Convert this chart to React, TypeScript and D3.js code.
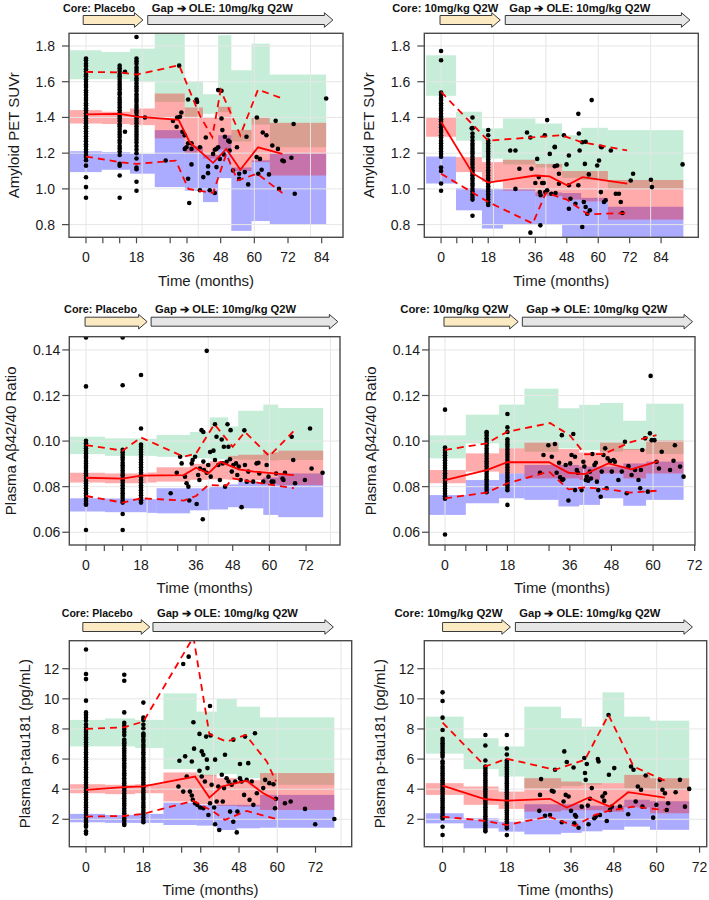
import React from "react";
import * as d3 from "d3";

type Pt = [number, number];
// [t0, t1, greenLo, greenHi, redLo, redHi, blueLo, blueHi]
type Bin = [number, number, number, number, number, number, number, number];

// ---------------- Amyloid PET SUVr, Core: Placebo ----------------
const AMY_PBO_BINS: Bin[] = [
  [-5.7, 5.6, 1.614, 1.776, 1.366, 1.441, 1.094, 1.211],
  [5.6, 15.7, 1.614, 1.766, 1.363, 1.432, 1.107, 1.206],
  [15.7, 24.5, 1.6, 1.785, 1.357, 1.45, 1.085, 1.196],
  [24.5, 35.2, 1.487, 1.95, 1.283, 1.534, 1.01, 1.329],
  [35.2, 41.7, 1.404, 1.6, 1.2, 1.456, 0.99, 1.24],
  [41.7, 47.1, 1.42, 1.53, 1.17, 1.4, 0.926, 1.19],
  [47.1, 51.8, 1.43, 1.86, 1.22, 1.46, 1.06, 1.3],
  [51.8, 59, 1.265, 1.664, 1.1, 1.33, 0.765, 1.12],
  [59, 65.5, 1.36, 1.813, 1.15, 1.4, 0.82, 1.16],
  [65.5, 85.6, 1.233, 1.64, 1.075, 1.37, 0.8, 1.2],
];
const AMY_PBO_MED: Pt[] = [[0, 1.417], [12, 1.42], [18, 1.405], [33, 1.387], [37, 1.26], [45.3, 1.146], [50, 1.224], [55, 1.107], [61.3, 1.233], [70, 1.196]];
const AMY_PBO_P95: Pt[] = [[0, 1.655], [12, 1.652], [18, 1.64], [33.2, 1.692], [40.6, 1.41], [45, 1.29], [48, 1.553], [55, 1.3], [61.3, 1.556], [70, 1.506]];
const AMY_PBO_P5: Pt[] = [[0, 1.181], [12, 1.15], [18, 1.14], [32, 1.158], [36.5, 1.0], [45.3, 0.977], [50, 1.196], [54, 1.047], [61, 1.085], [70, 0.977]];
const AMY_PBO_C0 = [1.73, 1.72, 1.7, 1.688, 1.67, 1.657, 1.641, 1.63, 1.612, 1.6, 1.583, 1.571, 1.552, 1.54, 1.526, 1.51, 1.497, 1.48, 1.468, 1.452, 1.44, 1.423, 1.41, 1.395, 1.38, 1.368, 1.351, 1.34, 1.322, 1.31, 1.295, 1.28, 1.266, 1.25, 1.238, 1.22, 1.207, 1.19, 1.178, 1.16, 1.13, 1.065, 1.01, 0.95];
const AMY_PBO_C12 = [1.69, 1.675, 1.66, 1.643, 1.63, 1.615, 1.6, 1.585, 1.57, 1.556, 1.54, 1.528, 1.51, 1.497, 1.483, 1.47, 1.455, 1.44, 1.425, 1.41, 1.396, 1.38, 1.362, 1.35, 1.335, 1.32, 1.305, 1.29, 1.272, 1.258, 1.24, 1.226, 1.21, 1.19, 1.14, 1.13, 1.075, 0.95];
const AMY_PBO_C18 = [1.85, 1.73, 1.715, 1.7, 1.68, 1.665, 1.65, 1.637, 1.62, 1.606, 1.59, 1.575, 1.56, 1.548, 1.53, 1.515, 1.5, 1.487, 1.47, 1.455, 1.44, 1.427, 1.41, 1.395, 1.38, 1.367, 1.35, 1.335, 1.32, 1.305, 1.29, 1.275, 1.26, 1.24, 1.22, 1.2, 1.17, 1.12, 1.11, 1.04, 0.99];
const AMY_PBO_PTS: Pt[] = [[13.9, 1.655], [13.9, 1.32], [21, 1.4], [33.2, 1.69], [36.4, 1.5], [39.4, 1.5], [39.6, 1.487], [33.5, 1.404], [32.5, 1.4], [34, 1.428], [31, 1.38], [32.3, 1.348], [34.4, 1.32], [35.2, 1.3], [36.4, 1.255], [37.6, 1.255], [42.7, 1.288], [47.1, 1.553], [48.3, 1.549], [48.3, 1.394], [48.6, 1.329], [49.5, 1.292], [51.2, 1.264], [57.2, 1.292], [60.9, 1.4], [63, 1.316], [64.3, 1.3], [67.6, 1.381], [74, 1.363], [85.6, 1.506], [28.4, 1.159], [35.8, 1.233], [35.2, 1.224], [37.6, 1.224], [40.6, 1.233], [40.6, 0.992], [36.8, 0.921], [37.6, 1.137], [36.4, 1.057], [41.8, 1.066], [43.5, 1.126], [43.5, 1.088], [44.1, 0.992], [45.3, 1.196], [45.9, 1.219], [46.5, 1.224], [47.1, 1.233], [45.9, 0.977], [46.5, 1.122], [47.7, 1.168], [49.1, 1.193], [50.7, 1.27], [51.2, 1.215], [52.4, 1.103], [53.8, 1.233], [54.6, 1.057], [54.6, 1.085], [56.6, 1.094], [57.8, 1.025], [60.8, 1.178], [62, 1.168], [61.4, 1.085], [62.6, 1.107], [65.2, 1.081], [66.4, 1.243], [68.4, 1.224], [68.8, 1.0], [70, 1.159], [70.5, 1.155], [73.2, 1.174], [74.4, 0.973]];

// ---------------- Amyloid PET SUVr, Core: 10mg/kg ----------------
const AMY_ACT_BINS: Bin[] = [
  [-5.7, 5.7, 1.521, 1.748, 1.292, 1.4, 1.03, 1.181],
  [5.7, 15.6, 1.27, 1.432, 1.094, 1.178, 0.88, 1.005],
  [15.6, 23.6, 1.17, 1.339, 1.04, 1.15, 0.778, 1.0],
  [23.6, 36, 1.137, 1.394, 0.99, 1.163, 0.8, 1.0],
  [36, 46.2, 1.12, 1.366, 0.96, 1.14, 0.8, 0.98],
  [46.2, 53.5, 1.062, 1.3, 0.94, 1.1, 0.72, 0.977],
  [53.5, 63.7, 1.05, 1.342, 0.93, 1.1, 0.72, 0.95],
  [63.7, 92.5, 1.0, 1.329, 0.828, 1.05, 0.72, 0.9],
];
const AMY_ACT_MED: Pt[] = [[0, 1.376], [12, 1.088], [18, 1.035], [36, 1.075], [41.4, 1.07], [48.1, 1.02], [54, 1.066], [71.1, 1.029]];
const AMY_ACT_P95: Pt[] = [[0, 1.543], [18, 1.27], [36, 1.29], [46, 1.3], [54, 1.26], [60, 1.245], [71, 1.215]];
const AMY_ACT_P5: Pt[] = [[0, 1.085], [18, 0.927], [35, 0.806], [40, 0.978], [48, 0.94], [56, 0.858], [71, 0.865]];
const AMY_ACT_C0 = [1.772, 1.72, 1.54, 1.525, 1.51, 1.497, 1.48, 1.466, 1.45, 1.437, 1.42, 1.405, 1.39, 1.377, 1.36, 1.345, 1.33, 1.318, 1.3, 1.287, 1.27, 1.256, 1.24, 1.226, 1.21, 1.195, 1.18, 1.12, 1.1, 1.03, 0.99];
const AMY_ACT_C12 = [1.4, 1.34, 1.31, 1.29, 1.27, 1.253, 1.24, 1.225, 1.21, 1.197, 1.18, 1.165, 1.15, 1.137, 1.12, 1.105, 1.09, 1.077, 1.06, 1.045, 1.03, 1.017, 1.0, 0.985, 0.97, 0.955, 0.94, 0.85];
const AMY_ACT_C18 = [1.33, 1.3, 1.27, 1.255, 1.24, 1.225, 1.21, 1.195, 1.18, 1.165, 1.15, 1.137, 1.12, 1.105, 1.09, 1.075, 1.06, 1.045, 1.03, 1.015, 1.0, 0.985, 0.97, 0.955, 0.94, 0.925, 0.91];
const AMY_ACT_PTS: Pt[] = [[11.7, 1.339], [32.8, 1.316], [34.1, 1.288], [40.5, 1.385], [39.6, 1.3], [43.4, 1.236], [46.9, 1.3], [52.4, 1.42], [52.6, 1.31], [57.5, 1.497], [55.2, 1.264], [61, 1.236], [26.4, 1.215], [28.4, 1.215], [29.9, 1.113], [28.4, 1.0], [34.5, 1.113], [36.7, 1.168], [37.3, 1.066], [36, 1.033], [38.6, 1.033], [39.2, 1.033], [37.7, 0.982], [38, 0.964], [39.8, 0.982], [40.5, 0.992], [41.5, 1.196], [43.4, 1.233], [43.4, 1.127], [44.3, 1.131], [45, 1.085], [45, 1.029], [42.1, 0.973], [43.7, 0.977], [47.9, 1.137], [48.8, 1.187], [48.8, 1.02], [48.8, 0.889], [49.4, 0.945], [51.3, 0.917], [52.4, 1.02], [52.9, 1.215], [53.9, 1.261], [54.9, 1.14], [54.5, 0.927], [55.2, 0.899], [55.8, 0.861], [56.4, 1.081], [53.9, 0.787], [56.8, 0.88], [59.6, 1.131], [60.3, 1.159], [61, 0.982], [61.3, 1.233], [62.2, 0.927], [62.8, 0.936], [64.8, 1.215], [66.7, 0.973], [67.9, 0.973], [68.6, 0.927], [69.2, 0.865], [72.4, 1.047], [73.3, 1.085], [80.1, 1.051], [80.5, 1.01], [92.2, 1.137], [34.1, 0.755], [37.9, 0.796]];

// ---------------- Plasma Ab42/40, Core: Placebo ----------------
const ABR_PBO_BINS: Bin[] = [
  [-5.2, 6.2, 0.0943, 0.1019, 0.0818, 0.0861, 0.0691, 0.0749],
  [6.2, 19.8, 0.0935, 0.1012, 0.0815, 0.0858, 0.0688, 0.0748],
  [19.8, 23.1, 0.0935, 0.101, 0.0818, 0.0862, 0.0685, 0.0745],
  [23.1, 34, 0.0931, 0.1027, 0.0822, 0.0885, 0.0683, 0.0793],
  [34, 40.5, 0.0925, 0.104, 0.083, 0.09, 0.0696, 0.0793],
  [40.5, 46.5, 0.092, 0.1104, 0.0832, 0.0912, 0.07, 0.08],
  [46.5, 49.8, 0.0922, 0.1064, 0.083, 0.0935, 0.071, 0.081],
  [49.8, 58, 0.0918, 0.1133, 0.0828, 0.094, 0.0705, 0.082],
  [58, 62.9, 0.0915, 0.116, 0.081, 0.095, 0.0676, 0.084],
  [62.9, 77.6, 0.0917, 0.1145, 0.0807, 0.0958, 0.0666, 0.0858],
];
const ABR_PBO_MED: Pt[] = [[0, 0.0839], [12, 0.0835], [18, 0.0848], [32, 0.0851], [36, 0.0883], [40, 0.0858], [44, 0.0909], [50, 0.0876], [55, 0.0866], [68, 0.0851]];
const ABR_PBO_P95: Pt[] = [[0, 0.0982], [12, 0.0958], [18, 0.1016], [32, 0.0931], [36, 0.0945], [42, 0.1074], [48, 0.0975], [52, 0.104], [60, 0.0934], [69, 0.1058]];
const ABR_PBO_P5: Pt[] = [[0, 0.0759], [12, 0.073], [18, 0.0749], [32, 0.0739], [36, 0.0759], [40, 0.0807], [46, 0.0805], [48, 0.0836], [54, 0.0822], [68, 0.0793]];
const ABR_PBO_C0 = [0.1455, 0.124, 0.1001, 0.099, 0.0978, 0.0969, 0.0957, 0.0946, 0.0935, 0.0926, 0.0913, 0.0902, 0.0891, 0.0882, 0.087, 0.0859, 0.0849, 0.0838, 0.0826, 0.0815, 0.0805, 0.0793, 0.0782, 0.0771, 0.076, 0.0748, 0.0737, 0.0726, 0.0721, 0.061];
const ABR_PBO_C12 = [0.1455, 0.1245, 0.0962, 0.0951, 0.094, 0.0929, 0.0918, 0.0905, 0.0894, 0.0883, 0.0871, 0.086, 0.085, 0.0838, 0.0827, 0.0816, 0.0805, 0.0793, 0.0782, 0.0771, 0.076, 0.075, 0.0738, 0.073, 0.068, 0.061];
const ABR_PBO_C18 = [0.129, 0.1055, 0.0985, 0.0975, 0.0963, 0.0952, 0.0941, 0.093, 0.0918, 0.0907, 0.0896, 0.0885, 0.0874, 0.0862, 0.0851, 0.084, 0.0829, 0.0818, 0.0806, 0.0795, 0.0784, 0.0773, 0.0762, 0.0751, 0.074, 0.073];
const ABR_PBO_PTS: Pt[] = [[39.5, 0.1396], [38.4, 0.104], [42.2, 0.1074], [46.3, 0.1074], [51.8, 0.1047], [73.3, 0.1055], [27.7, 0.0771], [29.7, 0.0861], [30.8, 0.0931], [31.3, 0.0902], [32.4, 0.0844], [32.9, 0.0815], [33.5, 0.08], [33.8, 0.0739], [34.6, 0.0902], [34.9, 0.0917], [35.7, 0.0931], [36.2, 0.0724], [36.7, 0.0851], [37.1, 0.0829], [37.3, 0.088], [37.8, 0.1048], [38.2, 0.0657], [38.4, 0.091], [38.6, 0.0873], [39.5, 0.0861], [40, 0.0895], [40.6, 0.0952], [40.8, 0.0844], [41.7, 0.0958], [42.2, 0.0917], [42.7, 0.1019], [43.3, 0.0895], [43.8, 0.0829], [44.4, 0.1007], [44.7, 0.0902], [45.1, 0.0975], [45.5, 0.08], [46, 0.0909], [46.6, 0.0975], [47.1, 0.092], [47.3, 0.1048], [47.7, 0.0866], [48.2, 0.0895], [49.1, 0.0902], [49.5, 0.0851], [50, 0.0888], [50.6, 0.0829], [50.9, 0.071], [52, 0.0895], [52.6, 0.0822], [53.1, 0.0866], [54.7, 0.0822], [55.8, 0.0902], [56.4, 0.0905], [56.7, 0.0858], [58, 0.0822], [59.1, 0.0895], [59.7, 0.0844], [60.7, 0.0822], [61.3, 0.0822], [62.2, 0.0858], [64.3, 0.0836], [64.6, 0.0829], [65.1, 0.0861], [67.3, 0.1019], [67.8, 0.0917], [68.4, 0.0815], [71.6, 0.0829], [73.8, 0.088], [77.4, 0.0861]];

// ---------------- Plasma Ab42/40, Core: 10mg/kg ----------------
const ABR_ACT_BINS: Bin[] = [
  [-4.6, 6, 0.0924, 0.1025, 0.0815, 0.0873, 0.0676, 0.0763],
  [6, 15.6, 0.099, 0.1116, 0.0866, 0.0946, 0.0727, 0.0829],
  [15.6, 22.9, 0.0968, 0.116, 0.0858, 0.0968, 0.0749, 0.0858],
  [22.9, 32.7, 0.0953, 0.123, 0.0836, 0.0993, 0.0742, 0.0895],
  [32.7, 38.7, 0.0968, 0.1144, 0.0836, 0.0965, 0.0713, 0.0895],
  [38.7, 44.7, 0.096, 0.1159, 0.083, 0.095, 0.072, 0.0888],
  [44.7, 51.4, 0.0953, 0.1167, 0.0858, 0.0993, 0.0749, 0.0888],
  [51.4, 58, 0.096, 0.1089, 0.0836, 0.0965, 0.0716, 0.0902],
  [58, 68.8, 0.0943, 0.1164, 0.0858, 0.1004, 0.0742, 0.091],
];
const ABR_ACT_MED: Pt[] = [[0, 0.0829], [12, 0.0873], [18, 0.0907], [30, 0.0907], [35.6, 0.0861], [40.4, 0.0855], [47.1, 0.0902], [53.8, 0.0876], [61.5, 0.0912]];
const ABR_ACT_P95: Pt[] = [[0, 0.0961], [12, 0.099], [18, 0.1041], [30.3, 0.1079], [36, 0.1025], [40.4, 0.0942], [45.7, 0.0943], [53.8, 0.0997], [61, 0.1026]];
const ABR_ACT_P5: Pt[] = [[0, 0.0749], [12, 0.0774], [18, 0.0815], [30, 0.0866], [35.6, 0.0788], [40.4, 0.0797], [47.1, 0.0788], [53.4, 0.0774], [61, 0.0782]];
const ABR_ACT_C0 = [0.1138, 0.0972, 0.0961, 0.0949, 0.0938, 0.0927, 0.0916, 0.0904, 0.0893, 0.0882, 0.0871, 0.0859, 0.0848, 0.0837, 0.0826, 0.0814, 0.0803, 0.0792, 0.0781, 0.0769, 0.0758, 0.0747, 0.059];
const ABR_ACT_C12 = [0.104, 0.1035, 0.1024, 0.1012, 0.1001, 0.099, 0.0979, 0.0967, 0.0956, 0.0945, 0.0934, 0.0922, 0.0911, 0.09, 0.0889, 0.0877, 0.0866, 0.0855, 0.0844, 0.0832, 0.0821, 0.081, 0.0799, 0.0788, 0.0776];
const ABR_ACT_C18 = [0.1119, 0.106, 0.104, 0.1008, 0.0997, 0.0986, 0.0975, 0.0963, 0.0952, 0.0941, 0.093, 0.0918, 0.0907, 0.0896, 0.0885, 0.0873, 0.0862, 0.0851, 0.084, 0.0828, 0.0817, 0.0806, 0.0795, 0.0784, 0.072];
const ABR_ACT_PTS: Pt[] = [[59.3, 0.1286], [27.4, 0.0861], [28.4, 0.0939], [29.8, 0.0982], [30.8, 0.0931], [31.7, 0.0987], [32.2, 0.0861], [32.9, 0.0905], [33.2, 0.0841], [33.7, 0.0829], [34.1, 0.0832], [34.8, 0.0895], [33.7, 0.1026], [35.6, 0.0739], [36.1, 0.0902], [36.5, 0.0939], [37, 0.1031], [37.5, 0.0931], [37.5, 0.0785], [38, 0.0873], [38.3, 0.0861], [39.4, 0.0785], [39.9, 0.0909], [40.2, 0.0888], [40.6, 0.0829], [40.9, 0.0844], [41.3, 0.0826], [41.8, 0.0866], [42.1, 0.0836], [42.5, 0.0943], [43.1, 0.0895], [43.5, 0.0905], [43.8, 0.0822], [44.2, 0.0785], [44.9, 0.0756], [45.2, 0.0866], [45.7, 0.0939], [46.2, 0.0968], [46.6, 0.0793], [46.9, 0.0924], [47.6, 0.0912], [48.1, 0.0866], [48.6, 0.0917], [49, 0.0909], [50, 0.0829], [51, 0.0866], [51.9, 0.0997], [52.4, 0.0771], [52.9, 0.089], [53.8, 0.0851], [54.8, 0.0873], [55.8, 0.0829], [56.3, 0.0793], [56.5, 0.0873], [56.9, 0.0961], [57.7, 0.1012], [58.5, 0.0778], [59.1, 0.1034], [59.6, 0.1004], [60.4, 0.1004], [61, 0.0909], [61.7, 0.088], [62.5, 0.0953], [64.9, 0.0873], [65.9, 0.0914], [66.3, 0.0982], [67.8, 0.0888], [68.8, 0.0844]];

// ---------------- Plasma p-tau181, Core: Placebo ----------------
const TAU_PBO_BINS: Bin[] = [
  [-5, 6, 6.84, 8.6, 3.73, 4.33, 1.8, 2.36],
  [6, 15.4, 6.84, 8.7, 3.67, 4.29, 1.76, 2.29],
  [15.4, 24.3, 6.73, 8.6, 3.73, 4.33, 1.76, 2.36],
  [24.3, 34.7, 5.33, 10.36, 3.18, 5.11, 1.62, 3.11],
  [34.7, 41, 4.9, 9.15, 3.0, 4.95, 1.58, 2.96],
  [41, 47.3, 5.0, 9.99, 2.9, 4.73, 1.29, 2.96],
  [47.3, 54.6, 4.73, 9.48, 2.85, 4.6, 1.4, 2.96],
  [54.6, 77.9, 4.29, 8.77, 2.62, 5.07, 1.44, 3.62],
];
const TAU_PBO_MED: Pt[] = [[0, 3.96], [12, 4.13], [18, 4.18], [34.2, 4.84], [38.7, 3.44], [42.6, 4.18], [47.8, 4.44], [50.4, 4.56], [55.6, 3.73], [59.6, 3.29]];
const TAU_PBO_P95: Pt[] = [[0, 8.0], [12, 8.11], [18, 8.49], [33.7, 14.1], [38.7, 7.65], [44.1, 7.16], [50.1, 7.6], [56.7, 5.84], [59.6, 4.51]];
const TAU_PBO_P5: Pt[] = [[0, 2.18], [12, 2.22], [18, 2.36], [33.7, 3.22], [40, 2.51], [43.6, 1.96], [50.4, 2.56], [59.6, 2.02]];
const TAU_PBO_C0 = [13.28, 11.65, 11.31, 9.88, 9.1, 8.95, 8.75, 8.55, 8.3, 8.1, 7.95, 7.8, 7.62, 7.45, 7.3, 7.12, 6.95, 6.8, 6.62, 6.45, 6.3, 6.12, 5.95, 5.8, 5.62, 5.45, 5.3, 5.12, 4.95, 4.8, 4.62, 4.45, 4.3, 4.12, 3.95, 3.8, 3.62, 3.45, 3.3, 3.12, 2.95, 2.8, 2.62, 2.45, 2.3, 2.12, 1.95, 1.8, 1.62, 1.5, 1.2, 1.05];
const TAU_PBO_C12 = [11.6, 11.2, 9.1, 8.4, 8.2, 8.0, 7.8, 7.6, 7.3, 7.15, 7.05, 6.9, 6.72, 6.55, 6.4, 6.22, 6.05, 5.9, 5.72, 5.55, 5.4, 5.22, 5.05, 4.9, 4.72, 4.55, 4.4, 4.22, 4.05, 3.9, 3.72, 3.55, 3.4, 3.22, 3.05, 2.9, 2.72, 2.55, 2.4, 2.22, 2.05, 1.9, 1.72, 1.62];
const TAU_PBO_C18 = [9.75, 8.75, 8.6, 8.3, 8.05, 7.6, 7.7, 7.5, 7.3, 7.15, 6.95, 6.8, 6.62, 6.45, 6.3, 6.1, 5.95, 5.8, 5.62, 5.45, 5.3, 5.12, 4.95, 4.8, 4.62, 4.45, 4.3, 4.12, 3.95, 3.8, 3.62, 3.45, 3.3, 3.12, 2.95, 2.8, 2.62, 2.45, 2.3, 2.12, 1.95, 1.8];
const TAU_PBO_PTS: Pt[] = [[30.5, 12.31], [32.2, 12.8], [33.7, 8.44], [35.6, 7.67], [37.7, 7.49], [38.9, 9.52], [39.1, 7.56], [49.9, 7.49], [53, 7.71], [29.3, 5.89], [31.1, 6.18], [33.2, 5.84], [33.9, 6.69], [35.6, 5.22], [36.3, 6.51], [36.8, 6.29], [37.9, 5.96], [38.1, 5.4], [40.5, 5.96], [43.6, 6.29], [46.2, 7.29], [48.3, 5.67], [50.9, 5.73], [29, 4.18], [30.5, 3.84], [31.6, 4.84], [32.6, 3.84], [33.2, 3.58], [33.5, 3.29], [34.2, 3.07], [34.9, 2.96], [35.8, 2.78], [36.3, 4.84], [36.8, 2.73], [37.3, 4.51], [38.4, 2.29], [38.9, 3.07], [39.4, 4.29], [40.2, 2.78], [40.5, 1.67], [41, 3.18], [41.5, 4.18], [41.8, 1.29], [42.6, 4.96], [42.9, 3.18], [43.3, 4.07], [44.1, 4.73], [44.7, 4.51], [45.2, 2.51], [45.7, 4.29], [46.2, 1.84], [46.8, 4.51], [47.3, 1.13], [47.5, 2.51], [48.3, 4.73], [48.8, 4.51], [49.6, 3.62], [50.4, 4.62], [51.3, 3.29], [52, 4.51], [52.5, 2.96], [53.6, 3.73], [55.6, 4.07], [56.2, 4.62], [57.5, 4.4], [58.8, 4.33], [59.3, 2.73], [59.6, 3.36], [62.4, 3.07], [64.2, 3.18], [68.7, 2.69], [71.9, 1.67], [77.9, 2.02]];

// ---------------- Plasma p-tau181, Core: 10mg/kg ----------------
const TAU_ACT_BINS: Bin[] = [
  [-4.7, 5.9, 6.36, 8.82, 3.62, 4.4, 1.73, 2.4],
  [5.9, 15.7, 5.33, 7.38, 2.96, 4.18, 1.4, 2.07],
  [15.7, 22.9, 4.84, 6.84, 2.69, 3.84, 1.18, 1.84],
  [22.9, 33.2, 4.06, 9.48, 2.51, 4.73, 1.0, 3.0],
  [33.2, 39, 4.2, 8.71, 2.6, 4.51, 1.1, 3.0],
  [39, 44.8, 4.3, 8.15, 2.6, 4.4, 1.2, 2.9],
  [44.8, 50.9, 4.4, 10.43, 2.5, 4.4, 1.3, 2.9],
  [50.9, 58.1, 4.06, 8.82, 2.8, 4.95, 1.51, 3.3],
  [58.1, 69.1, 3.95, 8.55, 2.4, 4.73, 1.3, 3.2],
];
const TAU_ACT_MED: Pt[] = [[0, 4.24], [12, 3.33], [18, 3.24], [30.1, 3.36], [34.8, 2.78], [40.9, 3.44], [46.9, 2.84], [52, 3.8], [62.3, 3.44]];
const TAU_ACT_P95: Pt[] = [[0, 8.42], [12, 5.51], [18, 6.02], [31.5, 5.29], [39.9, 5.96], [46.5, 8.93], [53.5, 5.51], [62.3, 4.56]];
const TAU_ACT_P5: Pt[] = [[0, 2.18], [12, 1.89], [18, 1.62], [29.7, 2.18], [37.1, 1.56], [42.7, 2.29], [46.5, 2.56], [53.5, 2.84], [62.3, 2.62]];
const TAU_ACT_C0 = [10.43, 9.86, 8.75, 7.93, 7.35, 7.2, 7.05, 6.9, 6.75, 6.6, 6.45, 6.3, 6.15, 5.85, 5.7, 5.5, 5.35, 5.2, 5.05, 4.9, 4.75, 4.6, 4.45, 4.3, 4.15, 4.0, 3.85, 3.7, 3.55, 3.4, 3.25, 3.1, 2.95, 2.8, 2.65, 2.5, 2.35, 2.2, 2.05, 1.5, 0.96];
const TAU_ACT_C12 = [7.6, 6.9, 5.9, 5.5, 5.35, 5.2, 5.05, 4.9, 4.75, 4.6, 4.45, 4.3, 4.15, 4.0, 3.85, 3.7, 3.55, 3.4, 3.25, 3.1, 2.95, 2.8, 2.65, 2.5, 2.35, 2.2, 2.05, 1.9, 1.75, 1.6, 1.45, 1.3, 1.2];
const TAU_ACT_C18 = [7.6, 6.7, 6.3, 5.9, 5.75, 5.6, 5.45, 5.3, 5.15, 5.0, 4.85, 4.7, 4.55, 4.4, 4.25, 4.1, 3.95, 3.8, 3.65, 3.5, 3.35, 3.2, 3.05, 2.9, 2.75, 2.6, 2.45, 2.3, 2.15, 2.0, 1.85, 1.7, 1.55, 1.4, 0.95];
const TAU_ACT_PTS: Pt[] = [[46.5, 8.93], [27.6, 4.67], [27.3, 3.62], [27.1, 2.56], [28.7, 2.24], [30.1, 2.29], [30.6, 3.89], [31.1, 3.84], [31.5, 5.29], [33.4, 1.8], [33.9, 3.18], [34.1, 6.51], [34.5, 3.62], [34.8, 5.8], [35.3, 3.51], [36, 2.56], [36.7, 5.44], [37.1, 2.29], [36.9, 1.73], [37.4, 2.18], [38.1, 1.44], [39, 2.84], [39.7, 6.07], [39.9, 5.07], [40.1, 4.62], [40.4, 5.67], [40.7, 2.91], [40.9, 1.67], [41.3, 3.36], [41.8, 4.07], [42.5, 2.07], [42.9, 2.18], [43.5, 6.0], [43.7, 5.84], [44.1, 2.29], [44.8, 3.51], [45.3, 3.22], [45.5, 3.73], [46, 1.89], [46.6, 4.96], [46.9, 2.62], [47.4, 2.84], [48.1, 5.4], [49.7, 2.84], [52, 2.33], [52.8, 5.51], [53.5, 5.29], [54.1, 3.18], [54.7, 4.18], [55.6, 3.96], [56, 2.84], [56.9, 4.91], [59, 2.11], [59.9, 2.96], [60.9, 4.62], [61.6, 3.96], [62.3, 3.73], [62.8, 2.62], [63.2, 3.07], [65.3, 3.8], [66.5, 4.62], [67.9, 2.84], [69.1, 4.02]];

// ---------------- axis tick values ----------------
const AMY_Y_TICKS = [0.8, 1.0, 1.2, 1.4, 1.6, 1.8];
const ABR_Y_TICKS = [0.06, 0.08, 0.1, 0.12, 0.14];
const TAU_Y_TICKS = [2, 4, 6, 8, 10, 12];
const X_TICKS_LONG = [0, 6, 12, 18, 30, 36, 48, 60, 72, 84];
const X_LABELS_LONG = [0, 18, 36, 48, 60, 72, 84];
const X_TICKS = [0, 6, 12, 18, 30, 36, 48, 60, 72];
const X_LABELS = [0, 18, 36, 48, 60, 72];
const X_GRID = [0, 20, 40, 60, 80];

// ---------------- styling ----------------
const FONT = "'Liberation Sans', Arial, Helvetica, sans-serif";
const LFONT = "'Liberation Sans', Arial, sans-serif";
const GREEN = "rgb(0,176,80)";
const RED = "rgb(255,0,0)";
const BLUE = "rgb(0,0,255)";

interface Cfg {
  key: string;
  box: { l: number; r: number; t: number; b: number };
  xDomain: [number, number];
  yDomain: [number, number];
  yTicks: number[];
  yFmt: (v: number) => string;
  xTicks: number[];
  xLabels: number[];
  yTitle: string;
  yTitleX: number;
  yLabelGap: number;
  core: string;
  coreW: number;
  coreOff: number;
  coreArrow: [number, number];
  gapArrow: [number, number];
  arrowY: number;
  labelY: number;
  bins: Bin[];
  med: Pt[];
  p95: Pt[];
  p5: Pt[];
  clusters: { t: number; v: number[] }[];
  pts: Pt[];
}

const f1 = (v: number) => v.toFixed(1);
const f2 = (v: number) => v.toFixed(2);
const f0 = (v: number) => String(v);

const PANELS: Cfg[] = [
  {
    key: "p1", box: { l: 69, r: 343, t: 33.3, b: 237.3 }, xDomain: [-6.06, 91.6], yDomain: [0.729, 1.871],
    yTicks: AMY_Y_TICKS, yFmt: f1, xTicks: X_TICKS_LONG, xLabels: X_LABELS_LONG,
    yTitle: "Amyloid PET SUVr", yTitleX: 14, yLabelGap: 14,
    core: "Core: Placebo", coreW: 72, coreOff: 8, coreArrow: [-1, 20.3], gapArrow: [22, 88], arrowY: 20, labelY: 11.8,
    bins: AMY_PBO_BINS, med: AMY_PBO_MED, p95: AMY_PBO_P95, p5: AMY_PBO_P5,
    clusters: [{ t: 0, v: AMY_PBO_C0 }, { t: 12, v: AMY_PBO_C12 }, { t: 18, v: AMY_PBO_C18 }], pts: AMY_PBO_PTS,
  },
  {
    key: "p2", box: { l: 424.3, r: 698.3, t: 33.3, b: 237.3 }, xDomain: [-6.4, 98.2], yDomain: [0.729, 1.871],
    yTicks: AMY_Y_TICKS, yFmt: f1, xTicks: X_TICKS_LONG, xLabels: X_LABELS_LONG,
    yTitle: "Amyloid PET SUVr", yTitleX: 369, yLabelGap: 14,
    core: "Core: 10mg/kg Q2W", coreW: 106, coreOff: 2, coreArrow: [-0.4, 22.6], gapArrow: [24.5, 95], arrowY: 20, labelY: 11.8,
    bins: AMY_ACT_BINS, med: AMY_ACT_MED, p95: AMY_ACT_P95, p5: AMY_ACT_P5,
    clusters: [{ t: 0, v: AMY_ACT_C0 }, { t: 12, v: AMY_ACT_C12 }, { t: 18, v: AMY_ACT_C18 }], pts: AMY_ACT_PTS,
  },
  {
    key: "p3", box: { l: 69.3, r: 340, t: 336.7, b: 545 }, xDomain: [-5.46, 83.1], yDomain: [0.0544, 0.1458],
    yTicks: ABR_Y_TICKS, yFmt: f2, xTicks: X_TICKS, xLabels: X_LABELS,
    yTitle: "Plasma A\u03b242/40 Ratio", yTitleX: 11, yLabelGap: 9,
    core: "Core: Placebo", coreW: 73, coreOff: 10, coreArrow: [-0.3, 20], gapArrow: [21.3, 82.4], arrowY: 321.7, labelY: 313,
    bins: ABR_PBO_BINS, med: ABR_PBO_MED, p95: ABR_PBO_P95, p5: ABR_PBO_P5,
    clusters: [{ t: 0, v: ABR_PBO_C0 }, { t: 12, v: ABR_PBO_C12 }, { t: 18, v: ABR_PBO_C18 }], pts: ABR_PBO_PTS,
  },
  {
    key: "p4", box: { l: 429, r: 695, t: 336.7, b: 545 }, xDomain: [-4.62, 72.1], yDomain: [0.0544, 0.1458],
    yTicks: ABR_Y_TICKS, yFmt: f2, xTicks: X_TICKS, xLabels: X_LABELS,
    yTitle: "Plasma A\u03b242/40 Ratio", yTitleX: 371, yLabelGap: 9,
    core: "Core: 10mg/kg Q2W", coreW: 108, coreOff: 10, coreArrow: [-0.3, 21.1], gapArrow: [22.3, 71.4], arrowY: 321.7, labelY: 313,
    bins: ABR_ACT_BINS, med: ABR_ACT_MED, p95: ABR_ACT_P95, p5: ABR_ACT_P5,
    clusters: [{ t: 0, v: ABR_ACT_C0 }, { t: 12, v: ABR_ACT_C12 }, { t: 18, v: ABR_ACT_C18 }], pts: ABR_ACT_PTS,
  },
  {
    key: "p5", box: { l: 69.3, r: 351.7, t: 640.7, b: 846.7 }, xDomain: [-5.24, 83.35], yDomain: [0.18, 13.86],
    yTicks: TAU_Y_TICKS, yFmt: f0, xTicks: X_TICKS, xLabels: X_LABELS,
    yTitle: "Plasma p-tau181 (pg/mL)", yTitleX: 25, yLabelGap: 10,
    core: "Core: Placebo", coreW: 71, coreOff: 17, coreArrow: [-1, 20], gapArrow: [21, 77.6], arrowY: 627, labelY: 616.5,
    bins: TAU_PBO_BINS, med: TAU_PBO_MED, p95: TAU_PBO_P95, p5: TAU_PBO_P5,
    clusters: [{ t: 0, v: TAU_PBO_C0 }, { t: 12, v: TAU_PBO_C12 }, { t: 18, v: TAU_PBO_C18 }], pts: TAU_PBO_PTS,
  },
  {
    key: "p6", box: { l: 424.3, r: 706.7, t: 640.7, b: 846.7 }, xDomain: [-5.12, 74.0], yDomain: [0.18, 13.86],
    yTicks: TAU_Y_TICKS, yFmt: f0, xTicks: X_TICKS, xLabels: X_LABELS,
    yTitle: "Plasma p-tau181 (pg/mL)", yTitleX: 380, yLabelGap: 10,
    core: "Core: 10mg/kg Q2W", coreW: 108, coreOff: 8, coreArrow: [0, 19], gapArrow: [20.4, 70], arrowY: 627, labelY: 616.5,
    bins: TAU_ACT_BINS, med: TAU_ACT_MED, p95: TAU_ACT_P95, p5: TAU_ACT_P5,
    clusters: [{ t: 0, v: TAU_ACT_C0 }, { t: 12, v: TAU_ACT_C12 }, { t: 18, v: TAU_ACT_C18 }], pts: TAU_ACT_PTS,
  },
];

function arrowPath(x0: number, x1: number, cy: number) {
  const bh = 4.5, hh = 7.3, hl = 8.5;
  return `M${x0},${cy - bh}L${x1 - hl},${cy - bh}L${x1 - hl},${cy - hh}L${x1},${cy}L${x1 - hl},${cy + hh}L${x1 - hl},${cy + bh}L${x0},${cy + bh}Z`;
}

function Panel({ c }: { c: Cfg }) {
  const x = d3.scaleLinear().domain(c.xDomain).range([c.box.l, c.box.r]);
  const y = d3.scaleLinear().domain(c.yDomain).range([c.box.b, c.box.t]);
  const line = d3.line<Pt>().x((d) => x(d[0])).y((d) => y(d[1]));
  const clip = `clip-${c.key}`;
  const allPts: Pt[] = [
    ...c.clusters.flatMap((cl) => cl.v.map((v) => [cl.t, v] as Pt)),
    ...c.pts,
  ];
  const rect = (x0: number, x1: number, lo: number, hi: number, fill: string, op: number, k: string) => (
    <rect key={k} x={x(x0)} y={y(hi)} width={x(x1) - x(x0)} height={y(lo) - y(hi)} fill={fill} fillOpacity={op} />
  );
  const { l, r, t, b } = c.box;
  const cx = (l + r) / 2;
  const cyBox = (t + b) / 2;
  const ca0 = x(c.coreArrow[0]), ca1 = x(c.coreArrow[1]);
  const ga0 = x(c.gapArrow[0]), ga1 = x(c.gapArrow[1]);
  return (
    <g>
      <defs>
        <clipPath id={clip}>
          <rect x={l} y={t} width={r - l} height={b - t} />
        </clipPath>
      </defs>
      {/* study-phase arrows */}
      <path d={arrowPath(ca0, ca1, c.arrowY)} fill="#fcebc2" stroke="#3a3a3a" strokeWidth={1} />
      <path d={arrowPath(ga0, ga1, c.arrowY)} fill="#e6e6e6" stroke="#3a3a3a" strokeWidth={1} />
      <text x={ca1 - c.coreOff} y={c.labelY} textAnchor="end" fontFamily={LFONT} fontWeight={700} fontSize={11}
        textLength={c.coreW} lengthAdjust="spacingAndGlyphs" fill="#111">{c.core}</text>
      <text x={ga0 + 4} y={c.labelY} textAnchor="start" fontFamily={LFONT} fontWeight={700} fontSize={11}
        textLength={141} lengthAdjust="spacingAndGlyphs" fill="#111">{"Gap \u2794 OLE: 10mg/kg Q2W"}</text>

      <g clipPath={`url(#${clip})`}>
        <rect x={l} y={t} width={r - l} height={b - t} fill="#fff" />
        {c.bins.map((bn, i) => rect(bn[0], bn[1], bn[2], bn[3], GREEN, 0.224, `g${i}`))}
        {c.bins.map((bn, i) => rect(bn[0], bn[1], bn[6], bn[7], BLUE, 0.33, `b${i}`))}
        {c.bins.map((bn, i) => rect(bn[0], bn[1], bn[4], bn[5], RED, 0.33, `r${i}`))}
        {c.yTicks.map((v) => (
          <line key={`hy${v}`} x1={l} x2={r} y1={y(v)} y2={y(v)} stroke="#e6e6e6" strokeWidth={1} />
        ))}
        {X_GRID.filter((v) => v > c.xDomain[0] && v < c.xDomain[1]).map((v) => (
          <line key={`vx${v}`} x1={x(v)} x2={x(v)} y1={t} y2={b} stroke="#e6e6e6" strokeWidth={1} />
        ))}
        {allPts.map((p, i) => (
          <circle key={`pt${i}`} cx={x(p[0])} cy={y(p[1])} r={2.3} fill="#000" />
        ))}
        <path d={line(c.p95) || ""} fill="none" stroke={RED} strokeWidth={1.8} strokeDasharray="7,5" />
        <path d={line(c.p5) || ""} fill="none" stroke={RED} strokeWidth={1.8} strokeDasharray="7,5" />
        <path d={line(c.med) || ""} fill="none" stroke={RED} strokeWidth={1.8} />
      </g>
      <rect x={l} y={t} width={r - l} height={b - t} fill="none" stroke="#4a4a4a" strokeWidth={1.4} />

      {/* y axis */}
      {c.yTicks.map((v) => (
        <g key={`yt${v}`}>
          <line x1={l - 7} x2={l} y1={y(v)} y2={y(v)} stroke="#4a4a4a" strokeWidth={1.2} />
          <text x={l - c.yLabelGap} y={y(v)} dy="0.36em" textAnchor="end" fontFamily={FONT} fontSize={14} fill="#1a1a1a">
            {c.yFmt(v)}
          </text>
        </g>
      ))}
      {/* x axis */}
      {c.xTicks.map((v) => (
        <line key={`xt${v}`} x1={x(v)} x2={x(v)} y1={b} y2={b + 6} stroke="#4a4a4a" strokeWidth={1.2} />
      ))}
      {c.xLabels.map((v) => (
        <text key={`xl${v}`} x={x(v)} y={b + 20} dy="0.36em" textAnchor="middle" fontFamily={FONT} fontSize={14} fill="#1a1a1a">
          {v}
        </text>
      ))}
      <text x={cx} y={b + 43} dy="0.36em" textAnchor="middle" fontFamily={FONT} fontSize={15} fill="#1a1a1a">
        Time (months)
      </text>
      <text transform={`translate(${c.yTitleX},${cyBox}) rotate(-90)`} dy="0.36em" textAnchor="middle"
        fontFamily={FONT} fontSize={15} fill="#1a1a1a">
        {c.yTitle}
      </text>
    </g>
  );
}

export default function App() {
  return (
    <svg width={709} height={900} viewBox="0 0 709 900"
      style={{ position: "absolute", left: 0, top: 0, background: "#fff" }}>
      <rect x={0} y={0} width={709} height={900} fill="#fff" />
      {PANELS.map((c) => (
        <Panel key={c.key} c={c} />
      ))}
    </svg>
  );
}
